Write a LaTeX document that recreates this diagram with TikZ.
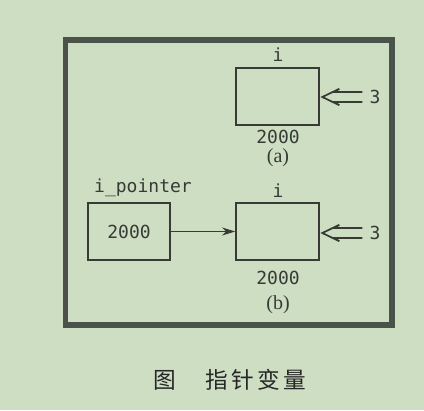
\documentclass[tikz,border=0pt]{standalone}
\usepackage{fontspec}
\setmonofont{DejaVu Sans Mono}
\newfontfamily\cjk{Noto Sans CJK SC}
\newfontfamily\tagfont{Liberation Serif}
\usetikzlibrary{arrows.meta,positioning}
\definecolor{bggreen}{RGB}{205,222,195}
\definecolor{framegray}{RGB}{75,82,74}
\definecolor{inkgray}{RGB}{55,58,53}

\begin{document}
\begin{tikzpicture}[x=0.75pt,y=-0.75pt,
    cell/.style={draw=inkgray,line width=1.3pt,minimum width=62pt,minimum height=43pt,inner sep=0pt},
    code/.style={font=\ttfamily\fontsize{13.5}{15}\selectfont,text=inkgray,inner sep=0pt},
    tag/.style={font=\tagfont\fontsize{15}{17}\selectfont,text=inkgray,inner sep=0pt},
    hollow/.style={draw=inkgray,line width=1.3pt,line join=miter}]
    \fill[bggreen] (0,0) rectangle (424,410);
    \useasboundingbox (0,0) rectangle (424,410);
    \draw[framegray,line width=4.3pt] (65.5,40) rectangle (392,325);
    % (a)
    \node[cell] (ia) at (277.5,96.5){};
    \node[code] (ianame) at (278,55){i};
    \node[code] (iaaddr) at (278,137){2000};
    \node[tag] (capa) at (278,158){(a)};
    \node[code] (threea) at (375,97){3};
    \draw[hollow] (threea.west) ++(-7,-5) -- ++(-28,0) -- ++(5,-3.2) -- ++(-17,8.2) -- ++(17,8.2) -- ++(-5,-3.2) -- ++(28,0);
    % (b)
    \node[cell] (ptr) at (129,231.5){};
    \node[code] (ptrval) at (129,232){2000};
    \node[code] (ptrname) at (143,188){i\_pointer};
    \node[cell] (ib) at (277.5,231.5){};
    \node[code] (ibname) at (278,191){i};
    \node[code] (ibaddr) at (278,278){2000};
    \node[tag] (capb) at (278,305){(b)};
    \node[code] (threeb) at (375,233){3};
    \draw[hollow] (threeb.west) ++(-7,-5) -- ++(-28,0) -- ++(5,-3.2) -- ++(-17,8.2) -- ++(17,8.2) -- ++(-5,-3.2) -- ++(28,0);
    \draw[inkgray,line width=1.1pt,-{Stealth[length=10pt,width=6pt]}] (ptr.east) -- (ib.west);
    % caption
    \node[font=\cjk\fontsize{17}{20}\selectfont,text=black!85,inner sep=0pt] (caption) at (229.5,380){图\hspace{22pt}指\hspace{2.5pt}针\hspace{2.5pt}变\hspace{2.5pt}量};
  \end{tikzpicture}
\end{document}
